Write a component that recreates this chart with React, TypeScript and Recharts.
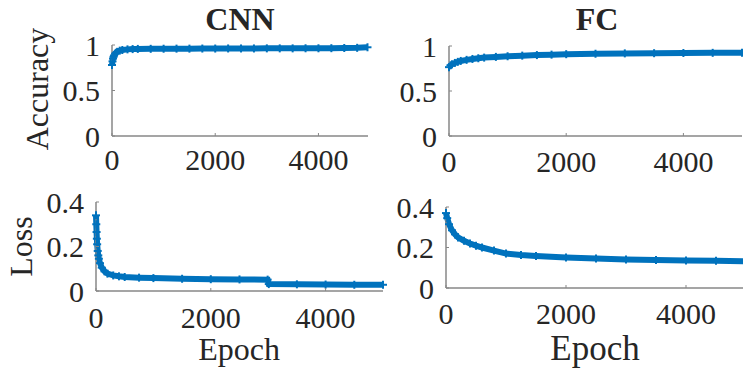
import React from "react";
import { LineChart, Line, XAxis, YAxis } from "recharts";

// ---- data ----
const epochTicks = [0, 2000, 4000];
const accTicks = [0, 0.5, 1];
const lossTicks = [0, 0.2, 0.4];

const cnnAccEpochs = [0, 10, 20, 30, 40, 60, 80, 100, 150, 200, 300, 400, 500, 750, 1000, 1250, 1500, 1750, 2000, 2250, 2500, 2750, 3000, 3250, 3500, 3750, 4000, 4250, 4500, 4750, 4950];
const cnnAcc = [0.78, 0.82, 0.85, 0.87, 0.885, 0.905, 0.915, 0.925, 0.938, 0.945, 0.952, 0.955, 0.957, 0.958, 0.959, 0.96, 0.96, 0.961, 0.961, 0.962, 0.962, 0.962, 0.963, 0.963, 0.963, 0.964, 0.964, 0.965, 0.967, 0.969, 0.975];

const fcAccEpochs = [0, 25, 50, 100, 150, 200, 300, 400, 500, 600, 800, 1000, 1250, 1500, 1750, 2000, 2500, 3000, 3500, 4000, 4500, 5000];
const fcAcc = [0.765, 0.785, 0.797, 0.812, 0.824, 0.834, 0.846, 0.856, 0.864, 0.871, 0.879, 0.886, 0.893, 0.899, 0.904, 0.909, 0.914, 0.918, 0.92, 0.922, 0.924, 0.925];

const cnnLossEpochs = [0, 5, 10, 15, 20, 30, 40, 50, 70, 100, 150, 200, 300, 400, 500, 750, 1000, 1500, 2000, 2500, 2990, 3010, 3500, 4000, 4500, 5000];
const cnnLoss = [0.34, 0.3, 0.265, 0.235, 0.21, 0.18, 0.16, 0.145, 0.125, 0.105, 0.088, 0.078, 0.07, 0.066, 0.063, 0.06, 0.058, 0.055, 0.053, 0.052, 0.051, 0.031, 0.03, 0.029, 0.028, 0.028];

const fcLossEpochs = [0, 20, 50, 100, 150, 200, 300, 400, 500, 600, 800, 1000, 1250, 1500, 2000, 2500, 3000, 3500, 4000, 4500, 5000];
const fcLoss = [0.37, 0.345, 0.315, 0.285, 0.265, 0.25, 0.233, 0.22, 0.209, 0.2, 0.185, 0.17, 0.163, 0.158, 0.151, 0.146, 0.141, 0.138, 0.136, 0.134, 0.132];

const BLUE = "#0072BD";
const AXIS = "#878787";
const TEXT = "#262626";
const FONT = "'Liberation Serif', 'Times New Roman', serif";

const toRows = (xs: number[], ys: number[]) => xs.map((e, i) => ({ epoch: e, value: ys[i] }));

const fmt = (v: number) => String(Math.round(v * 10) / 10);

const BottomTick = (off: number) => (props: any) => {
  const { x, y, payload } = props;
  return (
    <g>
      <line x1={x} x2={x} y1={y} y2={y - 3} stroke={AXIS} strokeWidth={1} />
      <text x={x} y={y + off} textAnchor="middle" fill={TEXT} fontSize={30} fontFamily={FONT}>
        {fmt(payload.value)}
      </text>
    </g>
  );
};
const TopTick = (props: any) => {
  const { x, y } = props;
  return <line x1={x} x2={x} y1={y} y2={y + 3} stroke={AXIS} strokeWidth={1} />;
};
const LeftTick = (props: any) => {
  const { x, y, payload } = props;
  return (
    <g>
      <line x1={x} x2={x + 3} y1={y} y2={y} stroke={AXIS} strokeWidth={1} />
      <text x={x - 12} y={y} dy="0.35em" textAnchor="end" fill={TEXT} fontSize={30} fontFamily={FONT}>
        {fmt(payload.value)}
      </text>
    </g>
  );
};
const RightTick = (props: any) => {
  const { x, y } = props;
  return <line x1={x} x2={x - 3} y1={y} y2={y} stroke={AXIS} strokeWidth={1} />;
};

const PlusDot = (props: any) => {
  const { cx, cy, index } = props;
  if (cx == null || cy == null) return <g key={index} />;
  return (
    <g key={index}>
      <line x1={cx - 4} x2={cx + 4} y1={cy} y2={cy} stroke={BLUE} strokeWidth={2} />
      <line x1={cx} x2={cx} y1={cy - 4} y2={cy + 4} stroke={BLUE} strokeWidth={2} />
    </g>
  );
};

type PanelProps = {
  left: number; top: number; right: number; bottom: number;
  xMax: number; yMax: number; yTicks: number[];
  rows: { epoch: number; value: number }[];
  tickOff: number;
};

const PADL = 80, PADT = 25, PADR = 10, PADB = 50;

function Panel({ left, top, right, bottom, xMax, yMax, yTicks, rows, tickOff }: PanelProps) {
  const w = right - left, h = bottom - top;
  return (
    <div style={{ position: "absolute", left: left - PADL, top: top - PADT }}>
      <LineChart
        width={w + PADL + PADR}
        height={h + PADT + PADB}
        data={rows}
        margin={{ top: PADT, right: PADR, left: 0, bottom: 0 }}
      >
        <XAxis
          dataKey="epoch" type="number" domain={[0, xMax]} ticks={epochTicks}
          height={PADB} interval={0} tickSize={0} tickMargin={0}
          axisLine={{ stroke: AXIS, strokeWidth: 1.5 }} tick={BottomTick(tickOff)}
        />
        <XAxis
          xAxisId="top" orientation="top" dataKey="epoch" type="number" domain={[0, xMax]} ticks={epochTicks}
          height={0} interval={0} tickSize={0} tickMargin={0}
          axisLine={{ stroke: AXIS, strokeWidth: 1.5 }} tick={TopTick}
        />
        <YAxis
          type="number" domain={[0, yMax]} ticks={yTicks} width={PADL} interval={0}
          tickSize={0} tickMargin={0} axisLine={{ stroke: AXIS, strokeWidth: 1.5 }} tick={LeftTick}
        />
        <YAxis
          yAxisId="right" orientation="right" type="number" domain={[0, yMax]} ticks={yTicks} width={0}
          interval={0} tickSize={0} tickMargin={0} axisLine={{ stroke: AXIS, strokeWidth: 1.5 }} tick={RightTick}
        />
        <Line
          type="linear" dataKey="value" stroke={BLUE} strokeWidth={6} dot={PlusDot}
          activeDot={false} isAnimationActive={false}
        />
      </LineChart>
    </div>
  );
}

export default function App() {
  return (
    <div style={{ position: "absolute", left: 0, top: 0, width: 743, height: 373, overflow: "hidden", background: "#fff" }}>
      <Panel left={112} top={45} right={368} bottom={136} xMax={4960} yMax={1} yTicks={accTicks} rows={toRows(cnnAccEpochs, cnnAcc)} tickOff={34} />
      <Panel left={449} top={46} right={742} bottom={136} xMax={5000} yMax={1} yTicks={accTicks} rows={toRows(fcAccEpochs, fcAcc)} tickOff={36} />
      <Panel left={96} top={202} right={383} bottom={291} xMax={5000} yMax={0.4} yTicks={lossTicks} rows={toRows(cnnLossEpochs, cnnLoss)} tickOff={37} />
      <Panel left={446} top={207} right={746} bottom={288} xMax={5000} yMax={0.4} yTicks={lossTicks} rows={toRows(fcLossEpochs, fcLoss)} tickOff={36} />
      <svg width={743} height={373} style={{ position: "absolute", left: 0, top: 0, pointerEvents: "none" }}>
        <text x={240} y={29.5} textAnchor="middle" fontSize={32} fontWeight="bold" fill={TEXT} fontFamily={FONT}>CNN</text>
        <text x={597} y={29.5} textAnchor="middle" fontSize={32} fontWeight="bold" fill={TEXT} fontFamily={FONT}>FC</text>
        <text x={47.5} y={89} textAnchor="middle" fontSize={32} fill={TEXT} fontFamily={FONT} transform="rotate(-90 47.5 89)">Accuracy</text>
        <text x={31.5} y={246.5} textAnchor="middle" fontSize={32} fill={TEXT} fontFamily={FONT} transform="rotate(-90 31.5 246.5)">Loss</text>
        <text x={239} y={360} textAnchor="middle" fontSize={32} fill={TEXT} fontFamily={FONT}>Epoch</text>
        <text x={595} y={360} textAnchor="middle" fontSize={35} fill={TEXT} fontFamily={FONT}>Epoch</text>
      </svg>
    </div>
  );
}
